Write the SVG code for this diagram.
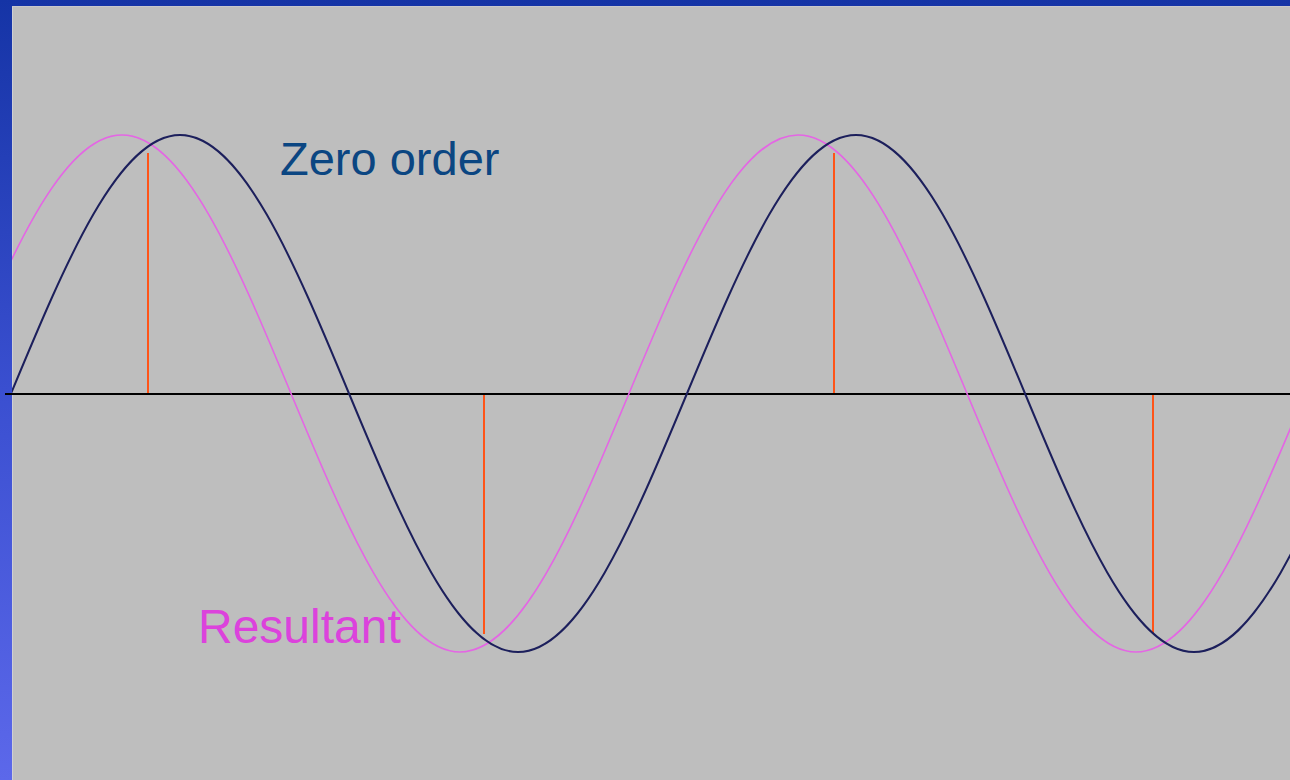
<svg xmlns="http://www.w3.org/2000/svg" width="1290" height="780" viewBox="0 0 1290 780">
  <defs>
    <linearGradient id="frame" x1="0" y1="0" x2="0" y2="1">
      <stop offset="0" stop-color="#1534a6"/>
      <stop offset="0.5" stop-color="#3a4fd0"/>
      <stop offset="1" stop-color="#5c68ea"/>
    </linearGradient>
    <clipPath id="plot">
      <rect x="12" y="6" width="1278" height="774"/>
    </clipPath>
    <style>
      .wave { fill: none; stroke-linejoin: round; }
      .navy { stroke: #1c1f5c; stroke-width: 2; }
      .pink { stroke: #e466e4; stroke-width: 1.6; }
      .marker { stroke: #ff5418; stroke-width: 2; }
      .axis { stroke: #000; stroke-width: 2; }
      .label { font-family: "Liberation Sans", Arial, sans-serif; font-size: 47px; }
    </style>
  </defs>

  <g id="background">
    <rect x="0" y="0" width="1290" height="780" fill="url(#frame)"/>
    <rect x="12" y="6" width="1278" height="774" fill="#bebebe"/>
    <line x1="12.5" y1="6" x2="12.5" y2="780" stroke="#cfcfd4" stroke-width="1"/>
    <line x1="12" y1="6.5" x2="1290" y2="6.5" stroke="#c8c8cc" stroke-width="1"/>
  </g>

  <g id="connectors">
    <g id="axis">
      <line class="axis" x1="5" y1="394" x2="1290" y2="394"/>
    </g>
    <g id="markers">
      <line class="marker" x1="148" y1="393" x2="148" y2="153"/>
      <line class="marker" x1="484" y1="395" x2="484" y2="634"/>
      <line class="marker" x1="834" y1="393" x2="834" y2="153"/>
      <line class="marker" x1="1153" y1="395" x2="1153" y2="634"/>
    </g>
  </g>

  <g id="resultant-wave" clip-path="url(#plot)">
    <path class="wave pink" d="M-47,393.5
      c55.12,-132.43 107.84,-258.5 169,-258.5
      c61.16,0 113.88,126.07 169,258.5
      c55.12,132.43 107.84,258.5 169,258.5
      c61.16,0 113.88,-126.07 169,-258.5
      c55.12,-132.43 107.84,-258.5 169,-258.5
      c61.16,0 113.88,126.07 169,258.5
      c55.12,132.43 107.84,258.5 169,258.5
      c61.16,0 113.88,-126.07 169,-258.5"/>
  </g>

  <g id="zero-order-wave" clip-path="url(#plot)">
    <path class="wave navy" d="M11,393.5
      c55.12,-132.43 107.84,-258.5 169,-258.5
      c61.16,0 113.88,126.07 169,258.5
      c55.12,132.43 107.84,258.5 169,258.5
      c61.16,0 113.88,-126.07 169,-258.5
      c55.12,-132.43 107.84,-258.5 169,-258.5
      c61.16,0 113.88,126.07 169,258.5
      c55.12,132.43 107.84,258.5 169,258.5
      c61.16,0 113.88,-126.07 169,-258.5"/>
  </g>

  <g id="label-zero-order">
    <text class="label" x="280" y="175" fill="#0b4682">Zero order</text>
  </g>
  <g id="label-resultant">
    <text class="label" x="198" y="643" fill="#dc42dc" style="font-size:48px">Resultant</text>
  </g>
</svg>
